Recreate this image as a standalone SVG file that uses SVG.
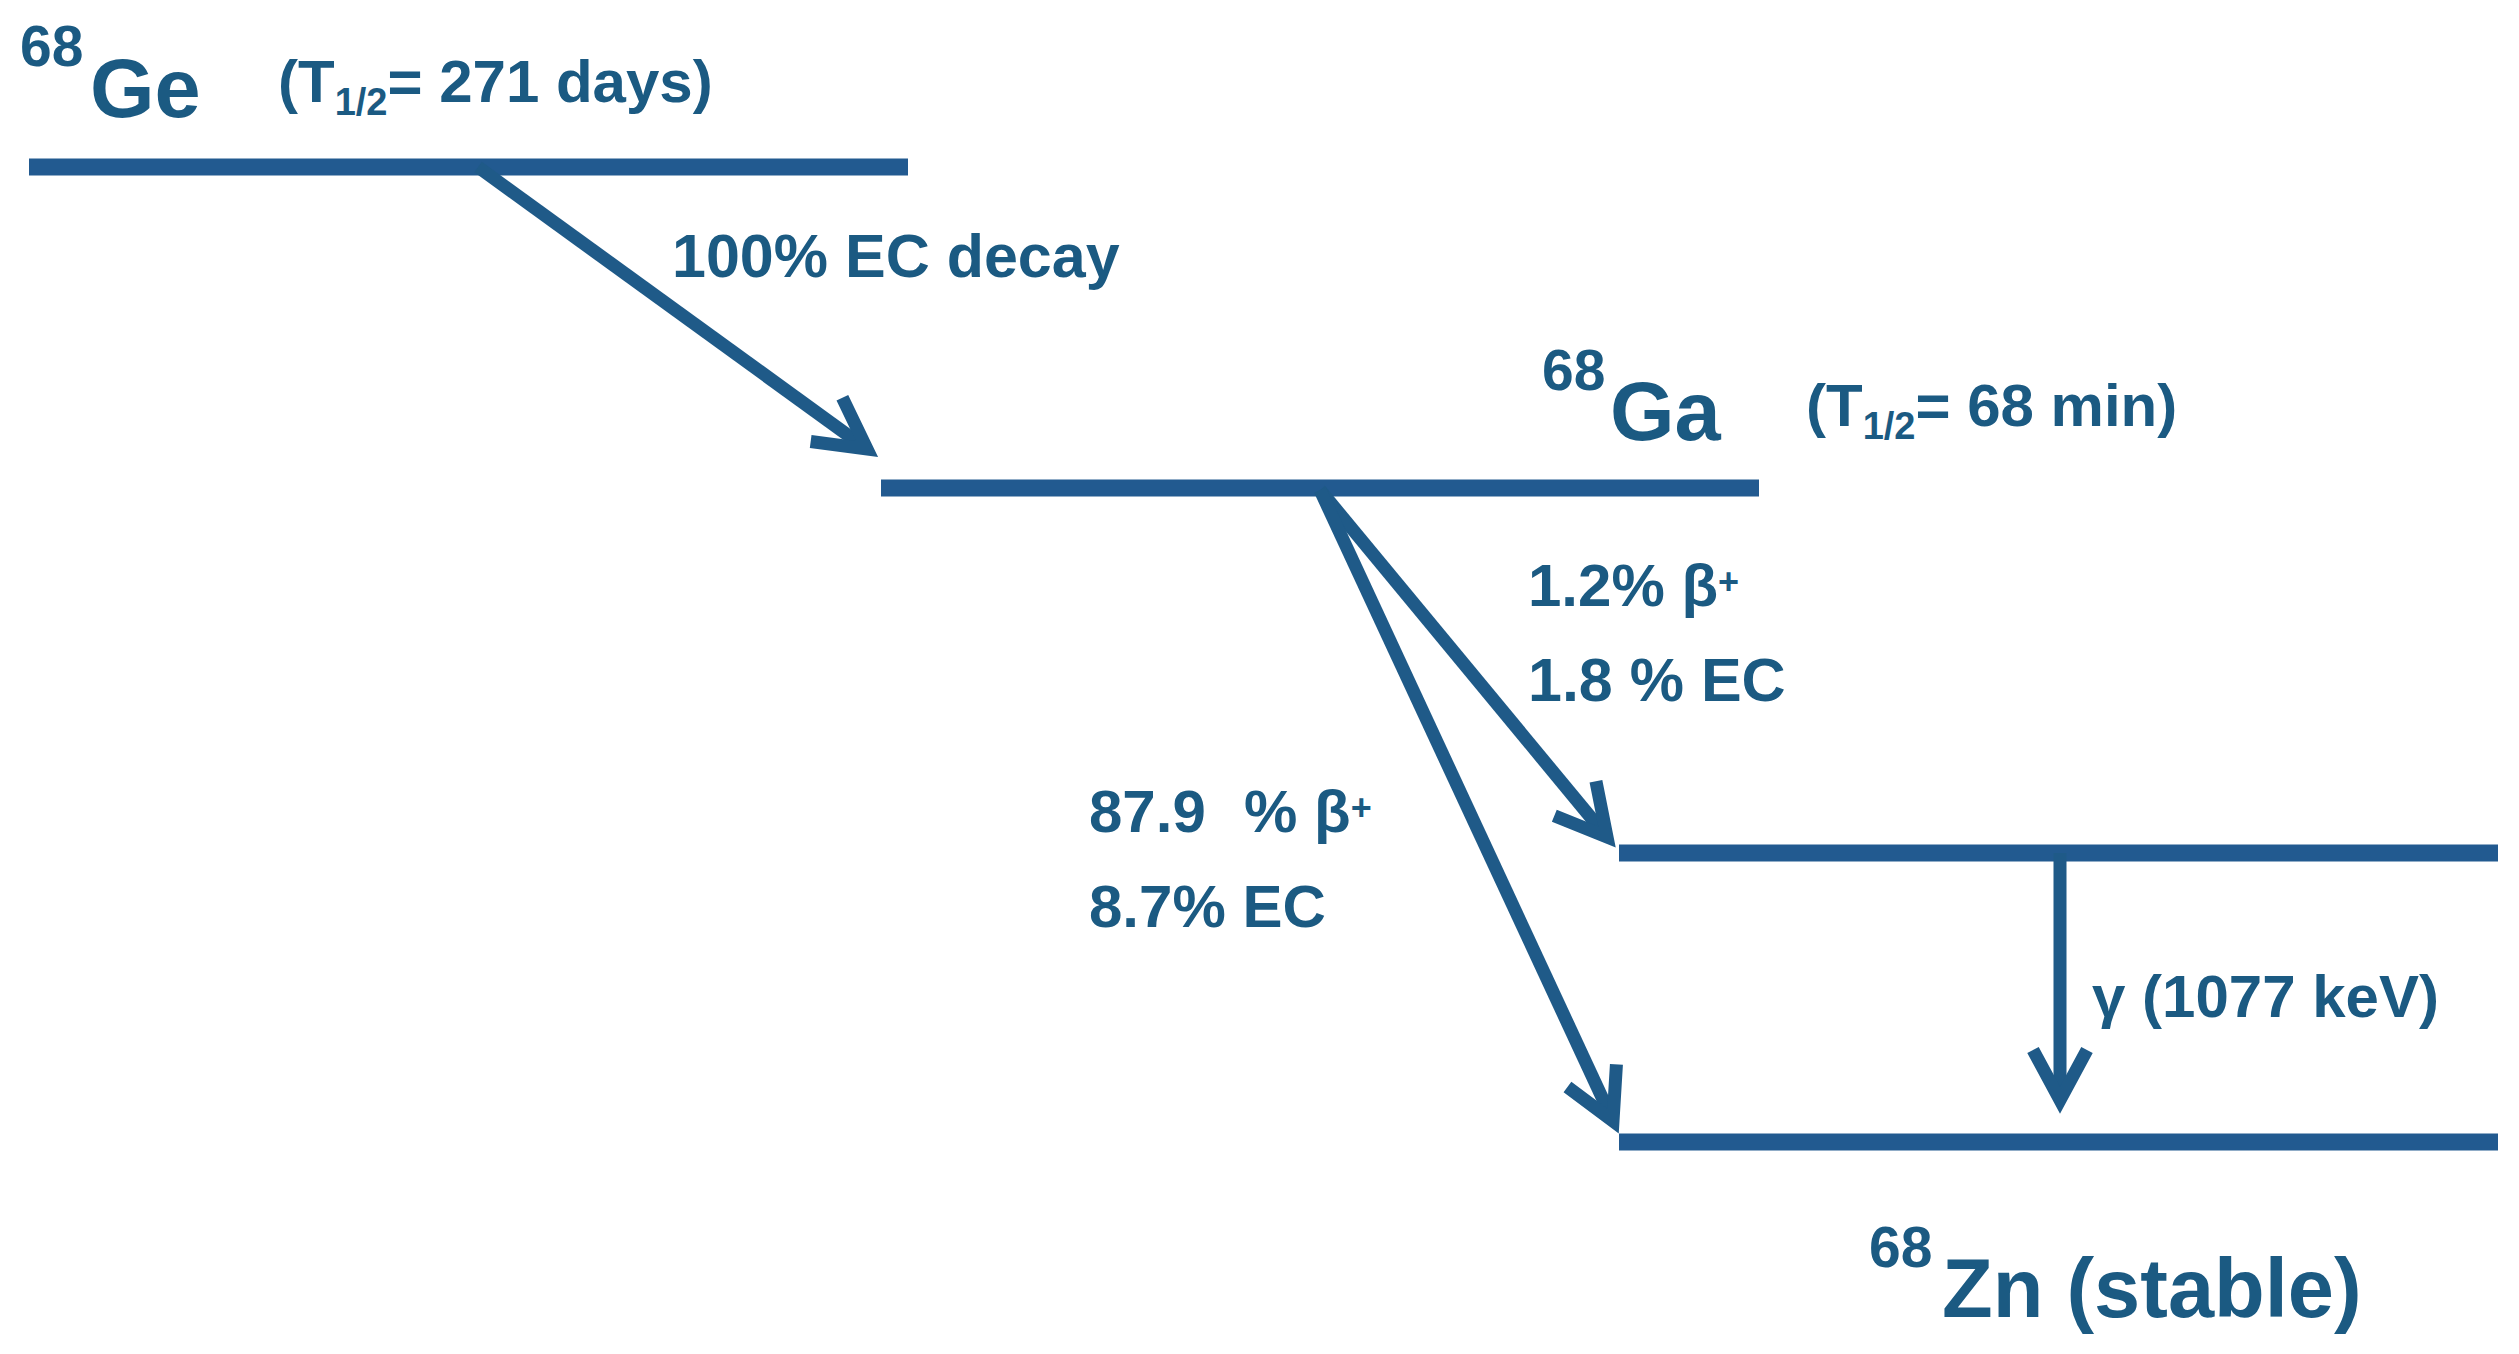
<svg xmlns="http://www.w3.org/2000/svg" width="2519" height="1354" viewBox="0 0 2519 1354">
<defs>
<style>
.t{font-family:"Liberation Sans",Arial,sans-serif;font-weight:bold;fill:#1b5a82}
.lvl{stroke:#225a90;stroke-width:17;fill:none}
.arr{stroke:#1f5a88;stroke-width:13;fill:none;marker-end:url(#ah)}
</style>
<marker id="ah" markerUnits="userSpaceOnUse" orient="auto" overflow="visible" markerWidth="10" markerHeight="10" refX="0" refY="0">
<path d="M-50,-27 L0,0 L-50,27" fill="none" stroke="#1f5a88" stroke-width="13" stroke-linejoin="miter"/>
</marker>
</defs>
<rect width="2519" height="1354" fill="#ffffff"/>
<g id="ge68">
<line class="lvl" x1="29" y1="167" x2="908" y2="167"/>
<text class="t" x="20" y="66" font-size="57">68</text>
<text class="t" x="90" y="117" font-size="83">Ge</text>
<text class="t" x="278" y="102" font-size="60">(T<tspan font-size="38" dy="13">1/2</tspan><tspan dy="-13">= 271 days)</tspan></text>
</g>
<g id="ga68">
<line class="lvl" x1="881" y1="488" x2="1759" y2="488"/>
<text class="t" x="1542" y="390" font-size="57">68</text>
<text class="t" x="1610" y="440" font-size="83">Ga</text>
<text class="t" x="1806" y="426" font-size="60">(T<tspan font-size="38" dy="13">1/2</tspan><tspan dy="-13">= 68 min)</tspan></text>
</g>
<g id="zn68-excited">
<line class="lvl" x1="1619" y1="853" x2="2498" y2="853"/>
</g>
<g id="zn68">
<line class="lvl" x1="1619" y1="1142" x2="2498" y2="1142"/>
<text class="t" x="1869" y="1267" font-size="57">68</text>
<text class="t" x="1942" y="1317" font-size="83">Zn (stable)</text>
</g>
<g id="connectors">
<line class="arr" x1="478" y1="167" x2="867" y2="449"/>
<line class="arr" x1="1320" y1="490" x2="1607" y2="837"/>
<line class="arr" x1="1320" y1="490" x2="1613" y2="1121"/>
<line class="arr" x1="2060" y1="853" x2="2060" y2="1100"/>
<text class="t" x="672" y="277" font-size="61">100% EC decay</text>
<text class="t" x="1528" y="606" font-size="60">1.2% β<tspan font-size="36" dy="-12">+</tspan></text>
<text class="t" x="1528" y="701" font-size="61">1.8 % EC</text>
<text class="t" x="1089" y="832" font-size="60">87.9<tspan x="1244">% β</tspan><tspan font-size="36" dy="-12">+</tspan></text>
<text class="t" x="1089" y="927" font-size="60">8.7% EC</text>
<text class="t" x="2092" y="1017" font-size="60">γ (1077 keV)</text>
</g>
</svg>
